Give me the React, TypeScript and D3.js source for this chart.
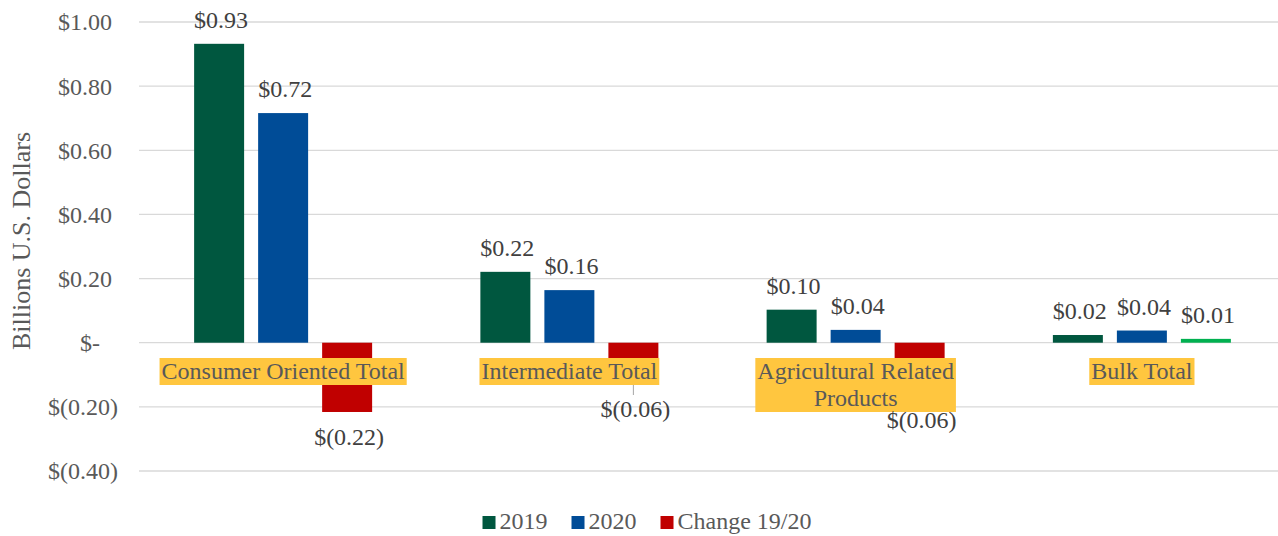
import React, { useEffect, useRef } from 'react'
import * as d3 from 'd3'

const categories = ['Consumer Oriented Total', 'Intermediate Total', 'Agricultural Related Products', 'Bulk Total']
const categoryLines = [['Consumer Oriented Total'], ['Intermediate Total'], ['Agricultural Related', 'Products'], ['Bulk Total']]
const seriesNames = ['2019', '2020', 'Change 19/20']
const values2019 = [0.932, 0.221, 0.103, 0.024]
const values2020 = [0.716, 0.164, 0.04, 0.038]
const valuesChange = [-0.216, -0.057, -0.063, 0.012]
const yTicks = [1.0, 0.8, 0.6, 0.4, 0.2, 0, -0.2, -0.4]

const colors = ['#00573F', '#004C97', '#C00000']
const positiveChange = '#00B050'
const FONT = '"Liberation Serif", "Times New Roman", serif'
const W = 1278
const H = 536

const money = (v: number) => {
  const s = d3.format('.2f')(Math.abs(v))
  if (Math.abs(v) < 0.005) return '$-'
  return v < 0 ? `$(${s})` : `$${s}`
}

const App = () => {
  const ref = useRef<SVGSVGElement>(null)

  useEffect(() => {
    const svg = d3.select(ref.current)
    svg.selectAll('*').remove()

    const x0 = d3.scaleBand().domain(categories).range([140, 1285]).padding(0)
    const x1 = d3.scaleBand().domain(seriesNames).range([0, 178]).paddingInner(0.219)
    const y = d3.scaleLinear().domain([-0.4, 1.0]).range([471, 22])

    // gridlines
    svg.append('g').selectAll('line').data(yTicks).join('line')
      .attr('x1', 139).attr('x2', W)
      .attr('y1', d => y(d)).attr('y2', d => y(d))
      .attr('stroke', '#d9d9d9').attr('stroke-width', 1.3)

    // tick labels (accounting style alignment)
    svg.append('g').selectAll('text').data(yTicks).join('text')
      .attr('x', d => (d === 0 ? 100 : d > 0 ? 112 : 118))
      .attr('y', d => y(d))
      .attr('dy', '0.35em')
      .attr('text-anchor', 'end')
      .attr('font-family', FONT).attr('font-size', 24).attr('fill', '#595959')
      .text(d => money(d))

    // y axis title
    svg.append('text')
      .attr('transform', 'translate(30,241) rotate(-90)')
      .attr('text-anchor', 'middle')
      .attr('font-family', FONT).attr('font-size', 26).attr('fill', '#595959')
      .text('Billions U.S. Dollars')

    const seriesValues = [values2019, values2020, valuesChange]
    const bars = categories.flatMap((c, ci) =>
      seriesNames.map((s, si) => ({ c, ci, s, si, v: seriesValues[si][ci] })))

    const groupLeft = (c: string) => x0(c)! + (x0.bandwidth() - 178) / 2

    svg.append('g').selectAll('rect').data(bars).join('rect')
      .attr('x', d => groupLeft(d.c) + x1(d.s)!)
      .attr('width', x1.bandwidth())
      .attr('y', d => Math.min(y(d.v), y(0)))
      .attr('height', d => Math.abs(y(d.v) - y(0)))
      .attr('fill', d => (d.si === 2 && d.v > 0 ? positiveChange : colors[d.si]))

    // category label boxes (drawn over bars, as in the original)
    const lineH = 27
    const boxTop = 358
    const boxes = categories.map((c, ci) => ({ c, ci, lines: categoryLines[ci] }))
    const boxBottom = (ci: number) => boxTop + categoryLines[ci].length * lineH

    // data labels
    const labelPos = (d: typeof bars[number]) => {
      const cx = groupLeft(d.c) + x1(d.s)! + x1.bandwidth() / 2 + 2
      if (d.v >= 0) return { cx, by: y(d.v) - 16, moved: false }
      const barEnd = y(d.v)
      const bb = boxBottom(d.ci)
      const overlaps = barEnd + 12 < bb
      const by = overlaps
        ? Math.max(barEnd + 33, bb + (categoryLines[d.ci].length > 1 ? 16 : 32))
        : barEnd + 33
      return { cx, by, moved: overlaps }
    }

    // leader lines for moved labels
    svg.append('g').selectAll('line').data(bars.filter(d => d.v < 0 && labelPos(d).moved)).join('line')
      .attr('x1', d => labelPos(d).cx - 2).attr('x2', d => labelPos(d).cx - 2)
      .attr('y1', d => y(d.v)).attr('y2', d => labelPos(d).by - 22)
      .attr('stroke', '#a6a6a6').attr('stroke-width', 1)

    const bg = svg.append('g')
    const tg = svg.append('g')
    boxes.forEach(b => {
      const cx = x0(b.c)! + x0.bandwidth() / 2
      const t = tg.append('text')
        .attr('text-anchor', 'middle')
        .attr('font-family', FONT).attr('font-size', 24).attr('fill', '#595959')
      b.lines.forEach((ln, li) => {
        t.append('tspan').attr('x', cx).attr('y', boxTop + 21 + li * lineH).text(ln)
      })
      const node = t.node() as SVGTextElement
      const w = d3.max(Array.from(node.querySelectorAll('tspan')), (s: any) => s.getComputedTextLength()) as number
      bg.append('rect')
        .attr('x', cx - w / 2 - 2).attr('width', w + 4)
        .attr('y', boxTop).attr('height', b.lines.length * lineH)
        .attr('fill', '#FFC63F')
    })

    svg.append('g').selectAll('text').data(bars).join('text')
      .attr('x', d => labelPos(d).cx)
      .attr('y', d => labelPos(d).by)
      .attr('text-anchor', 'middle')
      .attr('font-family', FONT).attr('font-size', 24).attr('fill', '#404040')
      .text(d => money(d.v))

    // legend
    const lg = svg.append('g')
    let xPos = 0
    seriesNames.forEach((s, i) => {
      lg.append('rect').attr('x', xPos).attr('y', 516).attr('width', 13).attr('height', 13).attr('fill', colors[i])
      const t = lg.append('text').attr('x', xPos + 17).attr('y', 529)
        .attr('font-family', FONT).attr('font-size', 24).attr('fill', '#595959').text(s)
      const tw = (t.node() as SVGTextElement).getComputedTextLength()
      xPos += 17 + tw + 24
    })
    const total = xPos - 24
    lg.attr('transform', `translate(${647 - total / 2},0)`)
  }, [])

  return (
    <svg ref={ref} width={W} height={H} style={{ position: 'absolute', left: 0, top: 0, background: '#fff' }} />
  )
}

export default App
